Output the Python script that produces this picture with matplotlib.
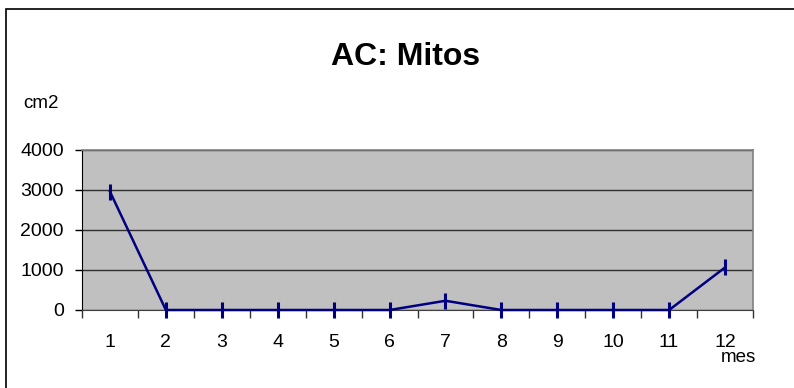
import matplotlib
matplotlib.use('Agg')
import matplotlib.pyplot as plt
from matplotlib.patches import Rectangle

plt.rcParams['font.family'] = ['Liberation Sans', 'DejaVu Sans']

# data
months = [1, 2, 3, 4, 5, 6, 7, 8, 9, 10, 11, 12]
values = [2950, 0, 0, 0, 0, 0, 230, 0, 0, 0, 0, 1060]
y_ticks = [0, 1000, 2000, 3000, 4000]

fig = plt.figure(figsize=(7.94, 3.88), dpi=100)

# outer chart border (right/bottom run off the picture)
fig.patches.append(Rectangle((6 / 794, -0.1), 1.2, (388 - 9) / 388 + 0.1,
                             transform=fig.transFigure, fill=False,
                             edgecolor='black', lw=1.2))

ax = fig.add_axes((82 / 794, (388 - 310) / 388, (753 - 82) / 794, (310 - 149.5) / 388))
ax.set_facecolor('#c0c0c0')

ax.plot(months, values, color='#000080', lw=1.8, marker='|', ms=11,
        mew=2.2, clip_on=False, zorder=3)

ax.set_xlim(0.5, 12.5)
ax.set_ylim(0, 4000)
ax.set_yticks(y_ticks)
ax.set_yticklabels([str(v) for v in y_ticks])
ax.yaxis.grid(True, color='#303030', lw=1)
ax.set_axisbelow(True)

# x ticks on category boundaries, labels at centres
ax.set_xticks([m - 0.5 for m in months] + [12.5])
ax.set_xticklabels([])
ax.set_xticks(months, minor=True)
ax.set_xticklabels([str(m) for m in months], minor=True)
ax.tick_params(axis='x', which='minor', length=0, labelsize=14, pad=17)
ax.tick_params(axis='x', which='major', length=6, width=1, color='#333333')
ax.tick_params(axis='y', length=5, width=1, labelsize=14, pad=8)

for side in ['top', 'right']:
    ax.spines[side].set_color('#808080')
    ax.spines[side].set_linewidth(1.2)
ax.spines['left'].set_color('black')
ax.spines['bottom'].set_color('#404040')

fig.text(406 / 794, 1 - 57 / 388, 'AC: Mitos', ha='center', va='center',
         fontsize=23, fontweight='bold')
fig.text(23 / 794, 1 - 104 / 388, 'cm2', ha='left', va='center', fontsize=13.5)
fig.text(738 / 794, 1 - 357 / 388, 'mes', ha='center', va='center', fontsize=13.5)

fig.savefig('out.png', dpi=100)
